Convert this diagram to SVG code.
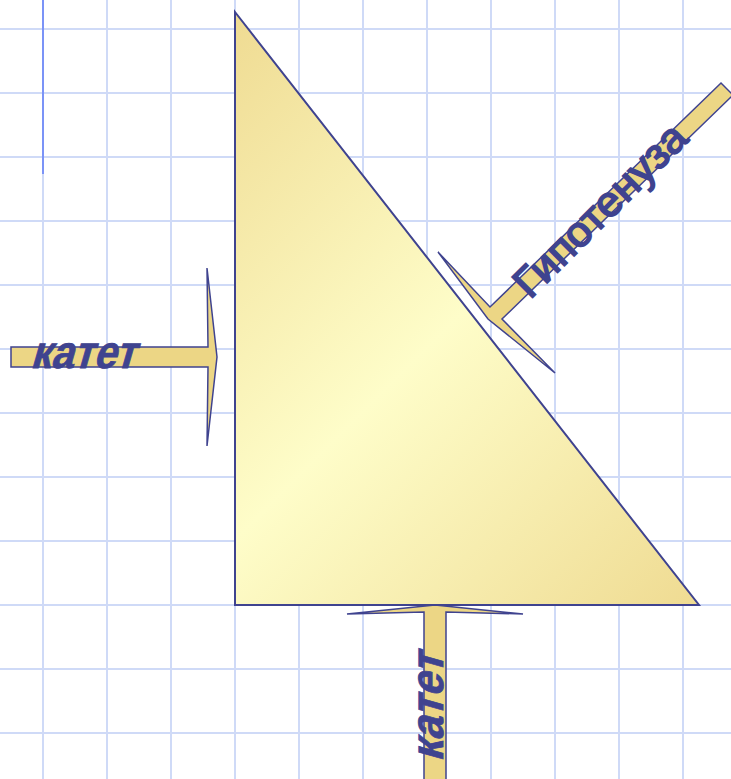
<svg xmlns="http://www.w3.org/2000/svg" width="731" height="779" viewBox="0 0 731 779">
<defs>
<linearGradient id="triFill" gradientUnits="userSpaceOnUse" x1="235" y1="12" x2="763" y2="540">
<stop offset="0" stop-color="#efdb92"/>
<stop offset="0.5" stop-color="#fefdc9"/>
<stop offset="1" stop-color="#efdb92"/>
</linearGradient>
<style>
.grid line{stroke:#cfdaf7;stroke-width:2}
.arrow{fill:#ecd685;stroke:#3f438f;stroke-width:1.5;stroke-linejoin:miter}
.label{fill:#3f438f;font-family:"Liberation Sans",Arial,sans-serif}
.kat{font-weight:bold;font-size:46px;stroke:#3f438f;stroke-width:0.8}
.hyp{font-size:42px;stroke:#3f438f;stroke-width:1.8}
</style>
</defs>
<rect width="731" height="779" fill="#ffffff"/>
<g class="grid">
<line x1="43" y1="0" x2="43" y2="779"/>
<line x1="107" y1="0" x2="107" y2="779"/>
<line x1="171" y1="0" x2="171" y2="779"/>
<line x1="235" y1="0" x2="235" y2="779"/>
<line x1="299" y1="0" x2="299" y2="779"/>
<line x1="363" y1="0" x2="363" y2="779"/>
<line x1="427" y1="0" x2="427" y2="779"/>
<line x1="491" y1="0" x2="491" y2="779"/>
<line x1="555" y1="0" x2="555" y2="779"/>
<line x1="619" y1="0" x2="619" y2="779"/>
<line x1="683" y1="0" x2="683" y2="779"/>
<line x1="0" y1="29" x2="731" y2="29"/>
<line x1="0" y1="93" x2="731" y2="93"/>
<line x1="0" y1="157" x2="731" y2="157"/>
<line x1="0" y1="221" x2="731" y2="221"/>
<line x1="0" y1="285" x2="731" y2="285"/>
<line x1="0" y1="349" x2="731" y2="349"/>
<line x1="0" y1="413" x2="731" y2="413"/>
<line x1="0" y1="477" x2="731" y2="477"/>
<line x1="0" y1="541" x2="731" y2="541"/>
<line x1="0" y1="605" x2="731" y2="605"/>
<line x1="0" y1="669" x2="731" y2="669"/>
<line x1="0" y1="733" x2="731" y2="733"/>
</g>
<line x1="43" y1="0" x2="43" y2="174" stroke="#7b93f7" stroke-width="2"/>
<g id="triangle">
<polygon points="235,12 699,605 235,605" fill="url(#triFill)" stroke="#3f438f" stroke-width="2"/>
</g>
<g id="connectors">
<polygon class="arrow" points="11,347 208,347 207,268 217,357 207,446 208,367 11,367"/>
<polygon class="arrow" points="438,252 490,307 721,83 733,95 502,319 555,373 488,319"/>
<polygon class="arrow" points="424,790 424,612 347,614 435,605 523,614 446,612 446,790"/>
</g>
<g id="label-left">
<text class="label kat" transform="translate(30,368) skewX(-16)" textLength="105" lengthAdjust="spacingAndGlyphs">катет</text>
</g>
<g id="label-bottom">
<text class="label kat" transform="translate(443,762) rotate(-90) skewX(-16)" textLength="108" lengthAdjust="spacingAndGlyphs">катет</text>
</g>
<g id="label-hyp">
<text class="label hyp" transform="translate(530,300) rotate(-45)" textLength="226" lengthAdjust="spacingAndGlyphs">Гипотенуза</text>
</g>
</svg>
